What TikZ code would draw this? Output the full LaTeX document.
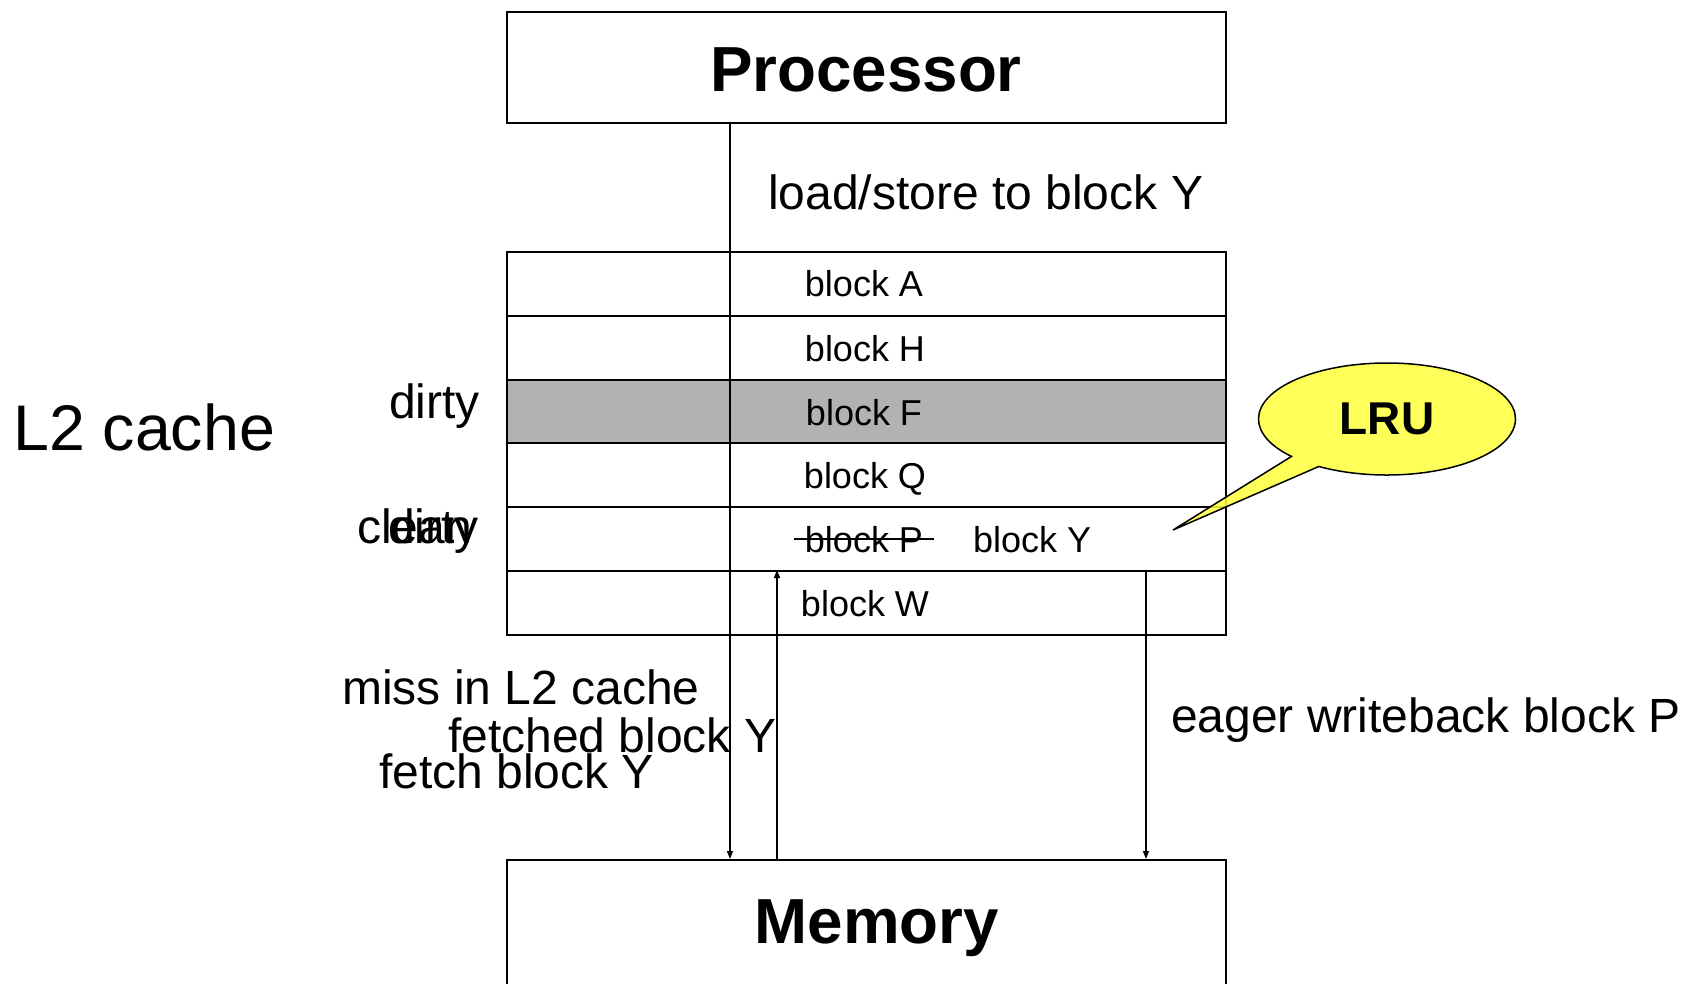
\documentclass[tikz,border=0pt]{standalone}
\usepackage{fontspec}
\setmainfont{Liberation Sans}
\usetikzlibrary{arrows.meta,shapes.callouts}
\definecolor{cachegray}{RGB}{178,178,178}
\definecolor{lruyellow}{RGB}{255,255,60}
\begin{document}
\begin{tikzpicture}[x=1pt,y=-1pt,
  box/.style={draw, line width=2pt, rectangle, inner sep=0pt, anchor=north west, minimum width=719pt},
  cell/.style={box, minimum height=63.8pt},
  title/.style={font=\fontsize{63.7pt}{70pt}\selectfont\bfseries, anchor=base, inner sep=0pt},
  lbl/.style={font=\fontsize{48pt}{56pt}\selectfont, inner sep=0pt},
  blk/.style={font=\fontsize{36pt}{42pt}\selectfont, inner sep=0pt, anchor=base},
  conn/.style={line width=1.5pt},
  arr/.style={conn, -{Triangle[length=8pt,width=6pt]}}]
\useasboundingbox (0,0) rectangle (1681,984);
\clip (0,0) rectangle (1681,984);

% boxes
\node[box, minimum height=111pt] (proc) at (506,11) {};
\node[cell] (rA) at (506,251) {};
\node[cell] (rH) at (506,314.8) {};
\node[cell, fill=cachegray] (rF) at (506,378.6) {};
\node[cell] (rQ) at (506,442.4) {};
\node[cell] (rP) at (506,506.2) {};
\node[cell] (rW) at (506,570) {};
\node[box, minimum height=180pt] (mem) at (506,859) {};

\coordinate (divx) at (730,0);
\coordinate (upx) at (777,0);
\coordinate (wbx) at (1146,0);

% titles
\node[title] (ptext) at (866,92) {Processor};
\node[title] (mtext) at (877,943) {Memory};

% block labels
\node[blk] (bA) at (864,297) {block A};
\node[blk] (bH) at (865,361) {block H};
\node[blk] (bF) at (864,425) {block F};
\node[blk] (bQ) at (865,488) {block Q};
\node[blk] (bP) at (864,552) {block P};
\node[blk, anchor=base west] (bY) at (973,552) {block Y};
\node[blk] (bW) at (865,616) {block W};
\draw[conn] ([xshift=-11pt]bP.west) -- ([xshift=11pt]bP.east);

% connectors
\draw[arr] (proc.south -| divx) -- (mem.north -| divx);
\draw[arr] (mem.north -| upx) -- (rW.north -| upx);
\draw[arr] (rP.south -| wbx) -- (mem.north -| wbx);

% side labels
\node[lbl, anchor=base west] (ls) at (768,210) {load/store to block Y};
\node[font=\fontsize{64.5pt}{70pt}\selectfont, inner sep=0pt, anchor=base west] (l2) at (13,450) {L2 cache};
\node[lbl, anchor=base east] (d1) at (480,418) {dirty};
\node[lbl, anchor=base east] (c2) at (472,543) {clean};
\node[lbl, anchor=base east] (d2) at (479,543) {dirty};
\node[lbl, anchor=base west] (miss) at (342,704) {miss in L2 cache};
\node[lbl, anchor=base west] (fetched) at (448,752) {fetched block Y};
\node[lbl, anchor=base west] (fetch) at (379,788) {fetch block Y};
\node[lbl, anchor=base west] (eager) at (1171,732) {eager writeback block P};

% LRU callout
\coordinate (tip) at (1173,530);
\node[ellipse callout, draw, line width=1.5pt, fill=lruyellow, fill opacity=0.85, text opacity=1,
      minimum width=257pt, minimum height=112pt, inner sep=0pt,
      callout absolute pointer={(tip)}, callout pointer arc=16,
      font=\fontsize{46pt}{50pt}\selectfont\bfseries] (lru) at (1387,419) {LRU};
\end{tikzpicture}
\end{document}
